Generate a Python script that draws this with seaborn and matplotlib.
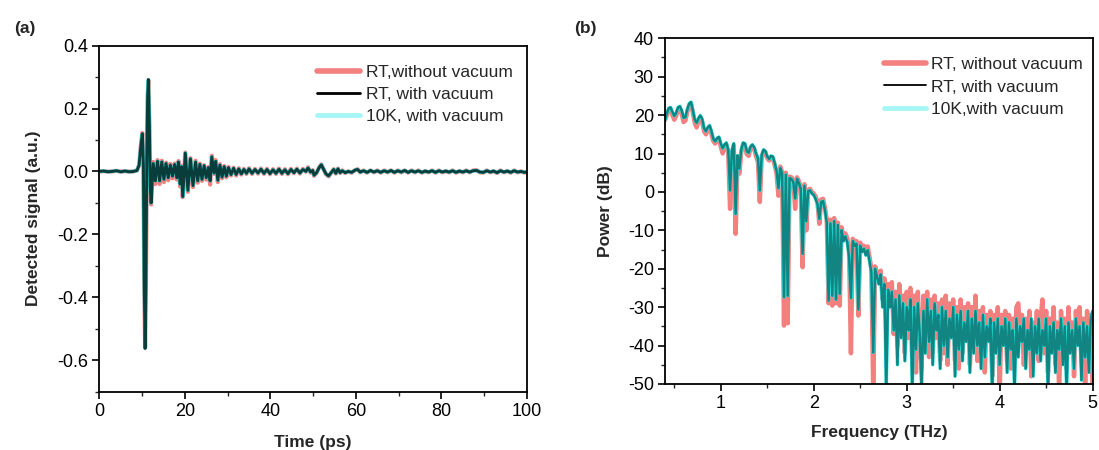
import numpy as np
import matplotlib
matplotlib.use("Agg")
import matplotlib.pyplot as plt
from matplotlib.lines import Line2D
from matplotlib.ticker import MultipleLocator, FormatStrFormatter
import seaborn as sns

# ---------------- data: panel (a) time-domain signal ----------------
time_ps = [0, 1, 2, 3, 4, 5, 6, 7, 8, 8.8,
           9.3, 9.7, 10.05, 10.3, 10.5, 10.7, 10.9, 11.1, 11.3, 11.47,
           11.7, 11.9, 12.1, 12.6, 13.1, 13.6, 14.1, 14.6, 15.1, 15.6,
           16.1, 16.6, 17.1, 17.6, 18.1, 18.5, 18.9, 19.2, 19.5, 20.1,
           20.7, 21.3, 21.9, 22.5, 23.0, 23.5, 24.0, 24.5, 25.0, 25.5,
           25.9, 26.3, 26.8, 27.2, 27.7, 28.2, 28.7, 29.2, 29.7, 30.2,
           30.8, 31.4, 32.0, 32.6, 33.2, 33.8, 34.4, 35.0, 35.7, 36.4,
           37.1, 37.8, 38.5, 39.2, 39.9, 40.6, 41.3, 42.0, 42.7, 43.4,
           44.1, 44.8, 45.5, 46.2, 46.9, 47.6, 48.3, 48.8, 49.4, 49.9,
           50.2, 50.8, 51.4, 51.9, 52.4, 53, 53.6, 54.2, 54.8, 55.3,
           55.8, 56.3, 56.8, 57.5, 58.2, 59, 59.8, 60.4, 61, 61.8,
           62.6, 63.4, 64.2, 65, 65.8, 66.6, 67.4, 68.2, 69, 69.8,
           70.6, 71.4, 72.2, 73, 73.8, 74.6, 75.4, 76.2, 77, 77.8,
           78.6, 79.4, 80.2, 81, 81.8, 82.6, 83.4, 84.2, 85, 85.8,
           86.6, 87.4, 88.2, 89, 89.8, 90.6, 91.4, 92.2, 93, 93.8,
           94.6, 95.4, 96.2, 97, 97.8, 98.6, 99.4, 100]

signal_rt_vac = [0.000, 0.001, -0.001, 0.000, 0.002, -0.001, 0.001, -0.001, 0.000, 0.003,
                 0.020, 0.080, 0.120, 0.020, -0.350, -0.563, -0.350, 0.050, 0.240, 0.292,
                 0.150, -0.050, -0.100, 0.025, -0.030, 0.032, -0.030, 0.030, -0.025, 0.025,
                 -0.020, 0.020, -0.015, 0.022, -0.020, 0.030, -0.040, 0.015, -0.080, 0.058,
                 -0.060, 0.040, -0.045, 0.030, -0.030, 0.022, -0.025, 0.018, -0.020, 0.012,
                 -0.030, 0.046, -0.005, 0.032, -0.028, 0.020, -0.018, 0.015, -0.015, 0.012,
                 -0.010, 0.010, -0.010, 0.008, -0.008, 0.006, -0.006, 0.008, -0.006, 0.006,
                 -0.005, 0.007, -0.006, 0.006, -0.007, 0.005, -0.006, 0.007, -0.006, 0.005,
                 -0.007, 0.006, -0.004, 0.007, -0.005, 0.006, 0.000, 0.011, -0.002, 0.003,
                 -0.012, -0.004, 0.012, 0.021, 0.008, -0.008, -0.014, -0.004, 0.006, -0.006,
                 0.008, -0.004, 0.002, -0.004, 0.000, -0.003, 0.004, 0.006, -0.002, 0.002,
                 -0.003, 0.003, -0.002, 0.002, -0.003, 0.002, -0.002, 0.003, -0.003, 0.002,
                 -0.002, 0.003, -0.003, 0.002, -0.002, 0.002, -0.003, 0.001, -0.002, 0.002,
                 -0.003, 0.002, -0.002, 0.001, -0.002, 0.002, -0.003, 0.001, -0.002, 0.002,
                 -0.002, 0.002, 0.003, -0.002, -0.003, 0.002, -0.002, 0.001, -0.004, 0.002,
                 -0.002, 0.001, -0.003, 0.002, -0.002, 0.000, -0.003, -0.002]

signal_10k_vac = [0.000, 0.001, -0.001, 0.000, 0.002, -0.001, 0.001, -0.001, 0.000, 0.003,
                  0.020, 0.080, 0.119, 0.020, -0.350, -0.562, -0.350, 0.050, 0.240, 0.291,
                  0.150, -0.050, -0.100, 0.025, -0.030, 0.032, -0.030, 0.030, -0.025, 0.025,
                  -0.020, 0.020, -0.015, 0.022, -0.020, 0.030, -0.040, 0.015, -0.080, 0.058,
                  -0.060, 0.040, -0.045, 0.030, -0.030, 0.022, -0.025, 0.018, -0.020, 0.012,
                  -0.030, 0.046, -0.005, 0.032, -0.028, 0.020, -0.018, 0.015, -0.015, 0.012,
                  -0.010, 0.010, -0.010, 0.008, -0.008, 0.006, -0.006, 0.008, -0.006, 0.006,
                  -0.005, 0.007, -0.006, 0.006, -0.007, 0.005, -0.006, 0.007, -0.006, 0.005,
                  -0.007, 0.006, -0.004, 0.007, -0.005, 0.006, 0.000, 0.011, -0.002, 0.003,
                  -0.012, -0.004, 0.012, 0.021, 0.008, -0.008, -0.014, -0.004, 0.006, -0.006,
                  0.008, -0.004, 0.002, -0.004, 0.000, -0.003, 0.004, 0.006, -0.002, 0.002,
                  -0.003, 0.003, -0.002, 0.002, -0.003, 0.002, -0.002, 0.003, -0.003, 0.002,
                  -0.002, 0.003, -0.003, 0.002, -0.002, 0.002, -0.003, 0.001, -0.002, 0.002,
                  -0.003, 0.002, -0.002, 0.001, -0.002, 0.002, -0.003, 0.001, -0.002, 0.002,
                  -0.002, 0.002, 0.003, -0.002, -0.003, 0.002, -0.002, 0.001, -0.004, 0.002,
                  -0.002, 0.001, -0.003, 0.002, -0.002, 0.000, -0.003, -0.002]

signal_rt_air = [0.000, 0.001, -0.001, 0.000, 0.002, -0.001, 0.001, -0.001, 0.000, 0.003,
                 0.020, 0.082, 0.122, 0.020, -0.350, -0.560, -0.350, 0.050, 0.240, 0.290,
                 0.150, -0.055, -0.105, 0.030, -0.040, 0.036, -0.040, 0.034, -0.034, 0.028,
                 -0.028, 0.024, -0.022, 0.025, -0.026, 0.033, -0.048, 0.018, -0.082, 0.060,
                 -0.065, 0.042, -0.050, 0.034, -0.036, 0.025, -0.030, 0.020, -0.026, 0.014,
                 -0.042, 0.050, -0.008, 0.036, -0.034, 0.023, -0.022, 0.017, -0.019, 0.014,
                 -0.013, 0.012, -0.013, 0.010, -0.010, 0.008, -0.008, 0.010, -0.008, 0.008,
                 -0.007, 0.009, -0.008, 0.008, -0.009, 0.007, -0.008, 0.009, -0.008, 0.007,
                 -0.009, 0.008, -0.006, 0.009, -0.007, 0.008, -0.001, 0.013, -0.004, 0.004,
                 -0.014, -0.005, 0.013, 0.022, 0.008, -0.009, -0.016, -0.005, 0.007, -0.007,
                 0.009, -0.005, 0.003, -0.005, 0.000, -0.004, 0.004, 0.007, -0.003, 0.003,
                 -0.004, 0.003, -0.003, 0.003, -0.004, 0.003, -0.003, 0.003, -0.004, 0.003,
                 -0.003, 0.003, -0.004, 0.003, -0.003, 0.003, -0.004, 0.001, -0.003, 0.003,
                 -0.004, 0.003, -0.003, 0.001, -0.003, 0.003, -0.004, 0.001, -0.003, 0.003,
                 -0.003, 0.003, 0.004, -0.003, -0.004, 0.003, -0.003, 0.001, -0.005, 0.003,
                 -0.003, 0.001, -0.004, 0.003, -0.003, 0.000, -0.004, -0.003]

# ---------------- data: panel (b) spectrum (0.40 ... 5.00 THz, 0.02 THz bins) ----------------
freq_start_thz = 0.40
freq_step_thz = 0.02

power_rt_vac = [18.7, 20.5, 21.8, 22.0, 20.8, 19.8, 20.6, 22.0, 22.3, 21.2,
                19.3, 19.5, 21.5, 23.0, 23.4, 21.2, 18.8, 18.0, 19.2, 19.9,
                19.0, 16.6, 15.8, 16.8, 17.3, 15.8, 13.8, 13.2, 14.0, 14.3,
                12.6, 11.4, 12.3, 12.8, 11.0, 0.4, 10.8, 12.6, -5.7, 9.5,
                6.1, 11.0, 12.8, 12.6, 10.6, 10.2, 11.8, 12.3, 11.6, 10.0,
                8.8, 0.4, 9.6, 11.0, 10.6, 9.2, 8.6, 9.4, 9.2, 7.5,
                5.5, 1.0, 6.2, 4.8, -27.4, 4.5, -27.0, 3.6, 3.4, 2.6,
                -1.7, 3.4, 2.4, 0.8, -16.1, 1.6, -7.6, 0.2, 0.4, -0.4,
                -0.8, -1.8, -3.2, -7.0, -2.6, -2.4, -4.6, -8.0, -28.3, -8.2,
                -27.0, -7.6, -28.0, -8.6, -26.5, -10.0, -12.8, -11.6, -13.0, -17.0,
                -27.6, -12.8, -14.0, -13.5, -30.6, -14.0, -15.6, -14.8, -16.5, -15.2,
                -18.0, -21.0, -41.8, -20.0, -22.0, -24.0, -21.5, -30.0, -24.0, -52.0,
                -25.5, -30.0, -26.0, -36.0, -28.0, -45, -27, -38, -29, -44,
                -30, -36, -28, -52, -30, -41, -29, -37, -52, -31,
                -42, -28, -39, -31, -45, -29, -36, -32, -46, -30,
                -40, -31, -43, -33, -38, -30, -48, -32, -41, -31,
                -44, -34, -39, -31, -47, -33, -42, -31, -40, -34,
                -46, -32, -43, -35, -39, -33, -52, -34, -42, -33,
                -45, -35, -40, -33, -47, -34, -41, -36, -52, -33,
                -43, -35, -39, -33, -46, -36, -41, -33, -48, -35,
                -42, -33, -44, -36, -40, -33, -52, -35, -42, -34,
                -47, -36, -41, -33, -45, -35, -52, -34, -42, -36,
                -46, -33, -40, -35, -49, -34, -43, -35, -47, -33,
                -31]

power_10k_vac = list(power_rt_vac)

power_rt_air = [18.7, 20.0, 21.3, 21.5, 20.0, 18.8, 19.8, 21.4, 21.8, 20.3,
                18.2, 18.6, 20.9, 22.6, 23.0, 20.6, 18.0, 16.8, 18.5, 19.4,
                18.2, 15.8, 15.0, 16.2, 16.8, 15.0, 13.2, 12.6, 13.6, 14.0,
                11.8, 10.0, 11.8, 12.2, 10.2, -4.4, 10.2, 12.0, -10.9, 8.0,
                4.8, 10.4, 12.4, 12.0, 9.8, 9.4, 11.4, 12.0, 11.2, 9.2,
                7.8, -2.6, 9.0, 10.6, 10.3, 8.8, 8.2, 9.0, 8.8, 7.0,
                4.8, -1.0, 6.6, 5.2, -34.8, 5.0, -34.2, 4.0, 3.8, 3.2,
                -4.4, 3.8, 2.8, 1.2, -19.6, 2.0, -10.0, 0.6, 0.8, 0.0,
                -0.4, -1.2, -2.6, -8.3, -2.0, -1.8, -4.0, -7.2, -29.0, -7.2,
                -29.6, -6.8, -29.0, -8.0, -29.6, -9.2, -12.0, -10.8, -12.0, -15.0,
                -42.0, -12.2, -13.0, -12.8, -32.2, -13.2, -14.8, -14.0, -15.6, -14.2,
                -17.0, -20.0, -52.0, -19.4, -21.0, -22.0, -20.5, -28.0, -22.5, -34.0,
                -24.0, -28.0, -23.5, -37.0, -26.0, -40, -24, -35, -27, -42,
                -26, -38, -25, -44, -27, -47, -26, -39, -46, -27,
                -40, -26, -43, -28, -42, -27, -38, -29, -44, -28,
                -42, -27, -45, -29, -36, -28, -44, -30, -46, -28,
                -42, -30, -37, -29, -45, -30, -40, -27, -44, -31,
                -41, -30, -47, -32, -37, -31, -48, -32, -40, -30,
                -52, -32, -38, -31, -44, -32, -46, -33, -41, -30,
                -29, -37, -32, -45, -33, -40, -31, -48, -34, -41,
                -31, -44, -33, -28, -42, -31, -47, -33, -39, -30,
                -45, -34, -52, -31, -43, -33, -46, -30, -41, -34,
                -48, -31, -38, -30, -44, -33, -52, -31, -42, -32,
                -52]

assert len(time_ps) == len(signal_rt_vac) == len(signal_rt_air) == len(signal_10k_vac)
assert len(power_rt_vac) == len(power_rt_air)
freq_thz = np.round(freq_start_thz + freq_step_thz * np.arange(len(power_rt_vac)), 3)

labels_a = ["RT,without vacuum", "RT, with vacuum", "10K, with vacuum"]
labels_b = ["RT, without vacuum", "RT, with vacuum", "10K,with vacuum"]

# ---------------- style ----------------
sns.set_style("white")
plt.rcParams["font.family"] = ["Liberation Sans", "DejaVu Sans"]
plt.rcParams["axes.unicode_minus"] = False

PINK = "#f47f7f"
CYAN_LINE = "#22f2ee"
CYAN_LEG = "#a6f6f6"
BLACK = "#000000"
TICK_FS = 13
LABEL_FS = 12.5
LEG_FS = 12.5

fig = plt.figure(figsize=(10.99, 4.5), dpi=100)
ax1 = fig.add_axes([0.0904, 0.130, 0.3891, 0.7686])
ax2 = fig.add_axes([0.6051, 0.1467, 0.3891, 0.7682])

# panel (a)
sns.lineplot(x=time_ps, y=signal_rt_air, ax=ax1, color=PINK, lw=3.0, sort=False, estimator=None)
sns.lineplot(x=time_ps, y=signal_10k_vac, ax=ax1, color=CYAN_LINE, lw=2.5, sort=False, estimator=None)
sns.lineplot(x=time_ps, y=signal_rt_vac, ax=ax1, color=BLACK, alpha=0.75, lw=2.1, sort=False, estimator=None)

# panel (b)
sns.lineplot(x=freq_thz, y=power_rt_air, ax=ax2, color=PINK, lw=3.2, sort=False, estimator=None)
sns.lineplot(x=freq_thz, y=power_10k_vac, ax=ax2, color=CYAN_LINE, lw=2.4, sort=False, estimator=None)
sns.lineplot(x=freq_thz, y=power_rt_vac, ax=ax2, color=BLACK, alpha=0.45, lw=1.8, sort=False, estimator=None)

for ax in (ax1, ax2):
    for s in ax.spines.values():
        s.set_visible(True)
        s.set_color("black")
        s.set_linewidth(1.3)
    ax.tick_params(axis="both", which="major", direction="out", length=5, width=1.2,
                   labelsize=TICK_FS, colors="black", bottom=True, left=True, top=False, right=False, pad=3)
    ax.tick_params(axis="both", which="minor", direction="out", length=3, width=1.0,
                   bottom=True, left=True, top=False, right=False)
    ax.grid(False)

ax1.set_xlim(0, 100)
ax1.set_ylim(-0.7, 0.4)
ax1.xaxis.set_major_locator(MultipleLocator(20))
ax1.xaxis.set_minor_locator(MultipleLocator(10))
ax1.yaxis.set_major_locator(MultipleLocator(0.2))
ax1.yaxis.set_minor_locator(MultipleLocator(0.1))
ax1.yaxis.set_major_formatter(FormatStrFormatter("%.1f"))
ax1.set_xlabel("Time (ps)", fontsize=LABEL_FS, fontweight="bold", labelpad=11)
ax1.set_ylabel("Detected signal (a.u.)", fontsize=LABEL_FS, fontweight="bold", labelpad=12)

ax2.set_xlim(0.4, 5)
ax2.set_ylim(-50, 40)
ax2.xaxis.set_major_locator(MultipleLocator(1))
ax2.xaxis.set_minor_locator(MultipleLocator(0.5))
ax2.yaxis.set_major_locator(MultipleLocator(10))
ax2.yaxis.set_minor_locator(MultipleLocator(5))
ax2.set_xlabel("Frequency (THz)", fontsize=LABEL_FS, fontweight="bold", labelpad=9)
ax2.set_ylabel("Power (dB)", fontsize=LABEL_FS, fontweight="bold", labelpad=11)

def handles(lw_black):
    return [Line2D([], [], color=PINK, lw=4),
            Line2D([], [], color=BLACK, lw=lw_black),
            Line2D([], [], color=CYAN_LEG, lw=3.5)]

ax1.legend(handles(2.0), labels_a, loc="upper left", bbox_to_anchor=(0.509, 0.945),
           frameon=False, fontsize=LEG_FS, handlelength=2.5, handletextpad=0.3,
           labelspacing=0.39, borderaxespad=0.0, borderpad=0.0)
ax2.legend(handles(1.3), labels_b, loc="upper left", bbox_to_anchor=(0.512, 0.946),
           frameon=False, fontsize=LEG_FS, handlelength=2.4, handletextpad=0.3,
           labelspacing=0.42, borderaxespad=0.0, borderpad=0.0)

fig.text(14 / 1099, 1 - 28 / 450, "(a)", fontsize=12.5, fontweight="bold", va="center", ha="left")
fig.text(574 / 1099, 1 - 28 / 450, "(b)", fontsize=12.5, fontweight="bold", va="center", ha="left")

fig.savefig("out.png", dpi=100)
